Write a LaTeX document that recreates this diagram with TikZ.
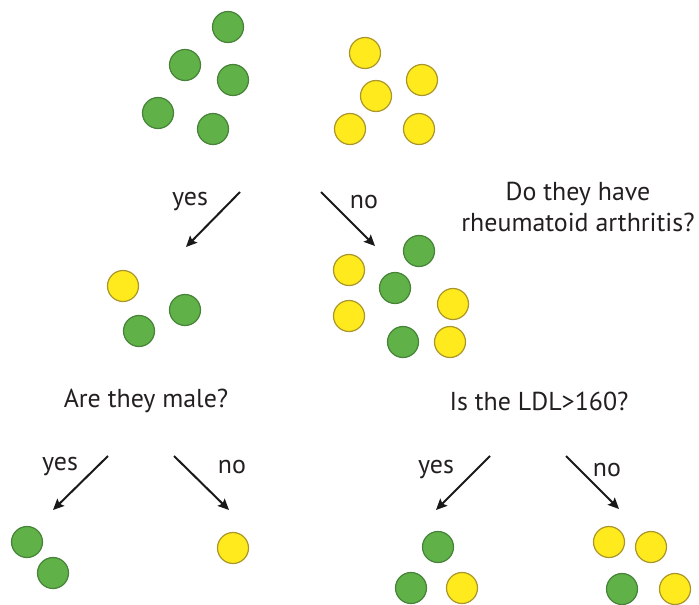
\documentclass[tikz,border=0pt]{standalone}
\usepackage{fontspec}
\setmainfont{PT Sans}
\usetikzlibrary{arrows.meta}
\definecolor{gfill}{RGB}{96,178,72}
\definecolor{gdraw}{RGB}{70,130,55}
\definecolor{yfill}{RGB}{255,234,30}
\definecolor{ydraw}{RGB}{170,150,40}
\definecolor{txt}{RGB}{35,31,32}
\tikzset{
  gball/.style={circle,fill=gfill,draw=gdraw,line width=1.2bp,minimum size=31bp,inner sep=0pt},
  yball/.style={circle,fill=yfill,draw=ydraw,line width=1.2bp,minimum size=31bp,inner sep=0pt},
  lbl/.style={text=txt,font=\fontsize{26}{31}\selectfont,inner sep=0pt,align=center},
  arr/.style={draw=black!90,line width=2bp,-{Stealth[length=11bp,width=10bp,inset=2bp]}}
}
\begin{document}
\begin{tikzpicture}[x=1bp,y=-1bp]
\useasboundingbox (0,0) rectangle (699,605);
% top groups
\node[gball] (g1) at (228,27) {};
\node[gball] (g2) at (185,65) {};
\node[gball] (g3) at (233,80) {};
\node[gball] (g4) at (158,113) {};
\node[gball] (g5) at (213,129) {};
\node[yball] (y1) at (365,53) {};
\node[yball] (y2) at (422,80) {};
\node[yball] (y3) at (376,96) {};
\node[yball] (y4) at (350,129) {};
\node[yball] (y5) at (419,129) {};
% first split
\coordinate (a1s) at (240,192); \coordinate (a1e) at (186,247);
\coordinate (a2s) at (321,192); \coordinate (a2e) at (375,246);
\draw[arr] (a1s) -- (a1e);
\draw[arr] (a2s) -- (a2e);
\node[lbl] (yes1) at (190,202) {yes};
\node[lbl] (no1) at (364,202) {no};
\node[lbl] (q1) at (578,207) {Do they have\\rheumatoid arthritis?};
% middle groups
\node[yball] (m1) at (123,286) {};
\node[gball] (m2) at (185,310) {};
\node[gball] (m3) at (139,331) {};
\node[yball] (n1) at (349,270) {};
\node[gball] (n2) at (419,251) {};
\node[gball] (n3) at (395,288) {};
\node[yball] (n4) at (349,316) {};
\node[yball] (n5) at (453,304) {};
\node[gball] (n6) at (403,342) {};
\node[yball] (n7) at (450,342) {};
% questions
\node[lbl] (q2) at (146,401) {Are they male?};
\node[lbl] (q3) at (539,401) {Is the LDL>160?};
% bottom left
\coordinate (b1s) at (108,456); \coordinate (b1e) at (53,510);
\coordinate (b2s) at (174,456); \coordinate (b2e) at (229,510);
\draw[arr] (b1s) -- (b1e);
\draw[arr] (b2s) -- (b2e);
\node[lbl] (yes2) at (60,467) {yes};
\node[lbl] (no2) at (232,467) {no};
\node[gball] (p1) at (27,542) {};
\node[gball] (p2) at (53,573) {};
\node[yball] (p3) at (233,548) {};
% bottom right
\coordinate (c1s) at (490,456); \coordinate (c1e) at (436,510);
\coordinate (c2s) at (566,456); \coordinate (c2e) at (619,509);
\draw[arr] (c1s) -- (c1e);
\draw[arr] (c2s) -- (c2e);
\node[lbl] (yes3) at (436,470) {yes};
\node[lbl] (no3) at (607,470) {no};
\node[gball] (r1) at (438,547) {};
\node[gball] (r2) at (411,588) {};
\node[yball] (r3) at (462,588) {};
\node[yball] (s1) at (609,542) {};
\node[yball] (s2) at (651,547) {};
\node[gball] (s3) at (622,589) {};
\node[yball] (s4) at (675,589) {};
\end{tikzpicture}
\end{document}
